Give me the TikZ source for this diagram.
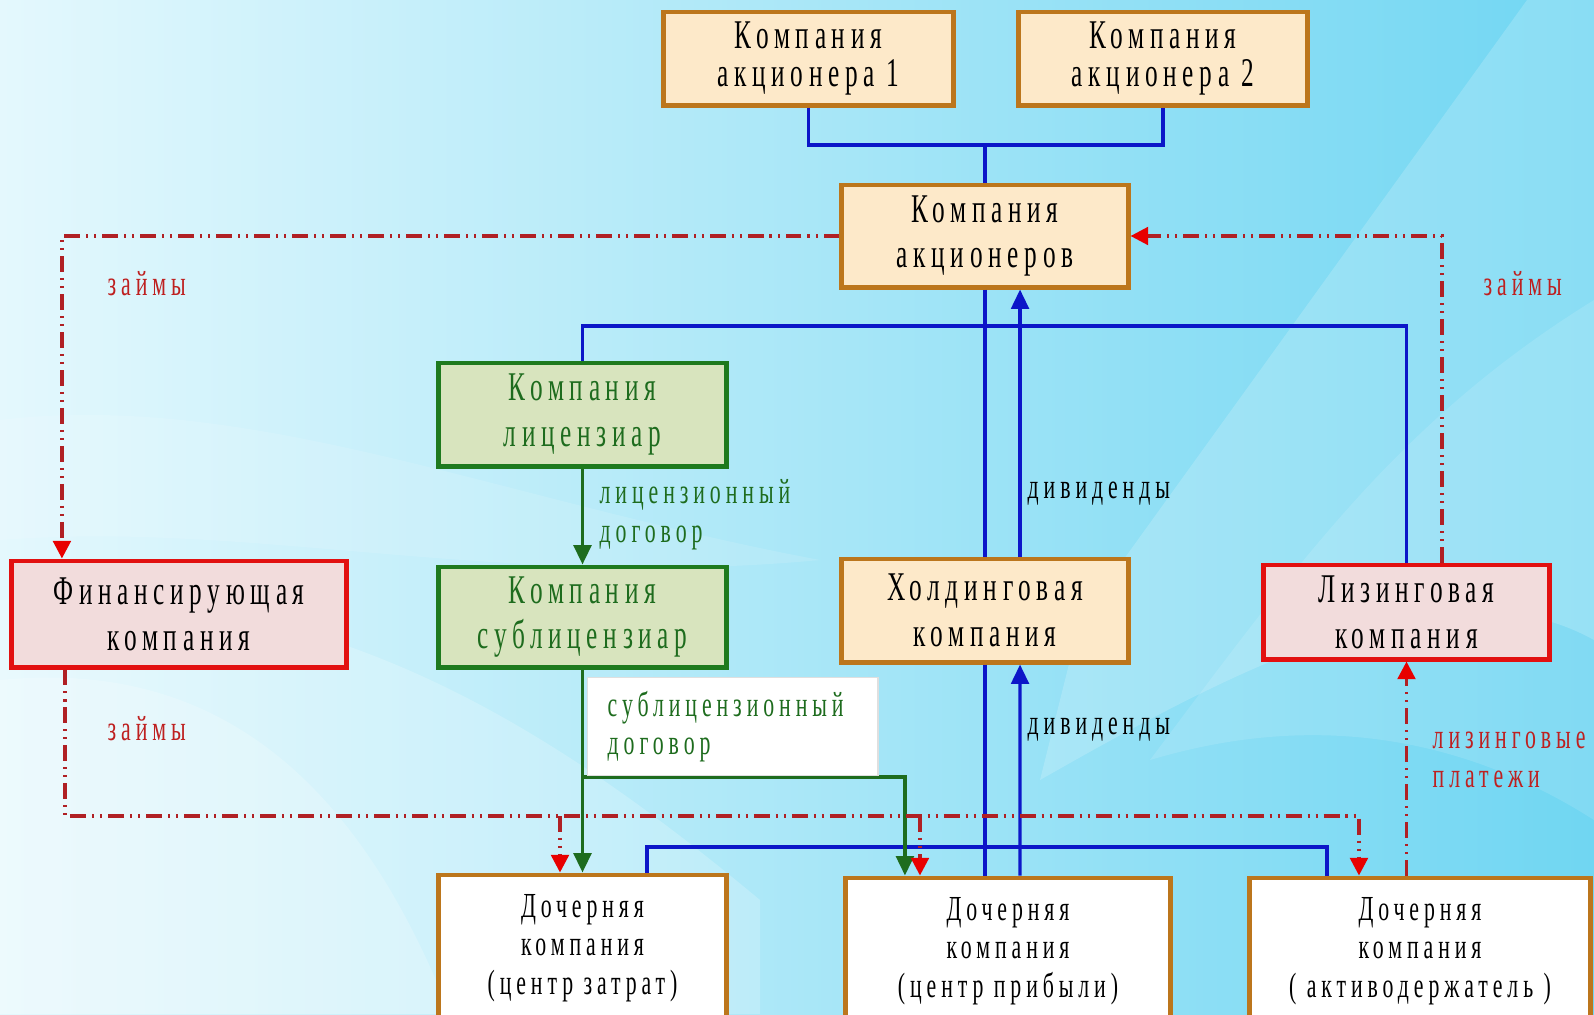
\documentclass[tikz,border=0pt]{standalone}
\usepackage{fontspec}
\setmainfont{Liberation Serif}[FakeStretch=0.62,LetterSpace=14]
\usetikzlibrary{arrows.meta,positioning}
\definecolor{bgleft}{RGB}{228,248,253}
\definecolor{bgright}{RGB}{112,214,242}
\definecolor{boxbrown}{RGB}{188,118,28}
\definecolor{boxpeach}{RGB}{253,233,201}
\definecolor{boxgreen}{RGB}{30,122,30}
\definecolor{fillgreen}{RGB}{216,228,190}
\definecolor{boxred}{RGB}{226,16,16}
\definecolor{fillred}{RGB}{242,220,220}
\definecolor{lineblue}{RGB}{12,22,200}
\definecolor{linered}{RGB}{176,32,36}
\definecolor{tipred}{RGB}{232,0,0}
\definecolor{textred}{RGB}{190,32,32}
\definecolor{textgreen}{RGB}{30,108,30}

\begin{document}
\begin{tikzpicture}[x=0.01cm, y=-0.01cm,
  every node/.style={font=\fontsize{11.6}{13}\selectfont, inner sep=0pt},
  basebox/.style={draw, rectangle, line width=1.4pt, align=center},
  orangebox/.style={basebox, draw=boxbrown, fill=boxpeach},
  greenbox/.style={basebox, draw=boxgreen, fill=fillgreen, text=textgreen},
  redbox/.style={basebox, draw=boxred, fill=fillred},
  whitebox/.style={basebox, draw=boxbrown, fill=white, font=\fontsize{10}{11}\selectfont},
  blueline/.style={draw=lineblue, line width=0.95pt, -{Triangle[length=5.5pt,width=5pt]}},
  greenline/.style={draw=textgreen, line width=1pt, -{Triangle[length=5.5pt,width=5pt]}},
  redline/.style={draw=linered, line width=0.95pt,
    dash pattern=on 4.5pt off 1.7pt on 0.6pt off 1.7pt on 0.6pt off 1.7pt,
    -{Triangle[length=5pt,width=5pt,color=tipred]}},
  lbl/.style={font=\fontsize{10}{11}\selectfont, align=left, anchor=west}
]
\useasboundingbox (0,0) rectangle (1594,1014);
\clip (0,0) rectangle (1594,1014);

% background
\shade[left color=bgleft, right color=bgright] (0,0) rectangle (1594,1014);
\fill[white, opacity=0.18] (1527,0) -- (1594,0) -- (1594,640) .. controls (1450,560) and (1250,660) .. (1040,780) -- (1080,620) -- cycle;
\fill[white, opacity=0.12] (1594,300) .. controls (1400,420) and (1300,560) .. (1150,760) .. controls (1350,700) and (1500,760) .. (1594,820) -- cycle;
\fill[white, opacity=0.2] (0,600) .. controls (300,580) and (520,700) .. (760,900) -- (760,1014) -- (0,1014) -- cycle;
\fill[white, opacity=0.2] (0,680) .. controls (200,660) and (350,760) .. (450,1014) -- (0,1014) -- cycle;
\fill[white, opacity=0.12] (0,420) .. controls (250,390) and (500,500) .. (820,560) .. controls (500,590) and (250,520) .. (0,540) -- cycle;

% shareholders
\node[orangebox, minimum width=2.89cm, minimum height=0.93cm, font=\fontsize{11.6}{11}\selectfont] (sh1) at (808.5,58.5) {Компания\\акционера 1};
\node[orangebox, minimum width=2.88cm, minimum height=0.93cm, font=\fontsize{11.6}{11}\selectfont] (sh2) at (1163,58.5) {Компания\\акционера 2};
\node[orangebox, minimum width=2.86cm, minimum height=1.02cm] (ak) at (985,236) {Компания\\акционеров};

% middle row
\node[greenbox, minimum width=2.87cm, minimum height=1.03cm] (lic) at (582.5,414.5) {Компания\\лицензиар};
\node[greenbox, minimum width=2.87cm, minimum height=1.00cm] (sub) at (582.5,617) {Компания\\сублицензиар};
\node[redbox, minimum width=3.34cm, minimum height=1.06cm] (fin) at (179,614) {Финансирующая\\компания};
\node[orangebox, minimum width=2.86cm, minimum height=1.03cm] (hold) at (985,610.5) {Холдинговая\\компания};
\node[redbox, minimum width=2.85cm, minimum height=0.94cm] (lease) at (1406.5,612) {Лизинговая\\компания};

% subsidiaries
\node[whitebox, minimum width=2.87cm, minimum height=1.46cm] (d1) at (582.5,948) {Дочерняя\\компания\\(центр затрат)};
\node[whitebox, minimum width=3.24cm, minimum height=1.46cm] (d2) at (1008,951) {Дочерняя\\компания\\(центр прибыли)};
\node[whitebox, minimum width=3.41cm, minimum height=1.46cm] (d3) at (1420,951) {Дочерняя\\компания\\( активодержатель )};

\coordinate (jn) at (985,145);
\coordinate (busT) at (0,326);
\coordinate (busB) at (0,847);
\coordinate (busG) at (0,777);
\coordinate (busR) at (0,816);

% ownership (blue)
\draw[blueline, -] (sh1.south) |- (jn) -| (sh2.south);
\draw[blueline, -] (jn) -- (ak.north);
\draw[blueline, -] (ak) -- (hold);
\draw[blueline, -] (hold.south) -- (hold.south |- d2.north);
\draw[blueline, -] (lic.north) |- (lease.north |- busT) -- (lease.north);
\draw[blueline, -] ([xshift=0.645cm]d1.north) |- ([xshift=-0.93cm]d3.north |- busB) -- ([xshift=-0.93cm]d3.north);
\draw[blueline] ([xshift=0.35cm]hold.north) -- ([xshift=0.35cm]ak.south);
\draw[blueline] ([xshift=0.12cm]d2.north) -- ([xshift=0.35cm]hold.south);
\node[lbl] (div1) at (1027,494) {дивиденды};
\node[lbl] (div2) at (1027,730) {дивиденды};

% licences (green)
\draw[greenline] (lic) -- (sub);
\node[lbl, text=textgreen] (liclbl) at (599,515) {лицензионный\\договор};
\draw[greenline] (sub) -- (d1);
\draw[greenline] (sub.south |- busG) -| ([xshift=-1.03cm]d2.north);
\node[lbl, text=textgreen, anchor=north west, draw=gray!25, fill=white, text width=2.5cm,
  inner xsep=0.2cm, minimum height=0.98cm] (sublbl) at (587,677) {сублицензионный\\договор};

% loans (red)
\draw[redline] (ak.west) -| ([xshift=-1.17cm]fin.north);
\node[lbl, text=textred] (z1) at (107,284) {займы};
\draw[redline] ([xshift=0.355cm]lease.north) |- (ak.east);
\node[lbl, text=textred] (z2) at (1483,284) {займы};
\draw[redline] ([xshift=-1.14cm]fin.south) |- ([xshift=-0.61cm]d3.north |- busR) -- ([xshift=-0.61cm]d3.north);
\draw[redline] ([xshift=-0.225cm]d1.north |- busR) -- ([xshift=-0.225cm]d1.north);
\draw[redline] ([xshift=-0.88cm]d2.north |- busR) -- ([xshift=-0.88cm]d2.north);
\node[lbl, text=textred] (z3) at (107,729) {займы};
\draw[redline] (lease.south |- d3.north) -- (lease.south);
\node[lbl, text=textred] (lpay) at (1432,760) {лизинговые\\платежи};
\end{tikzpicture}
\end{document}
